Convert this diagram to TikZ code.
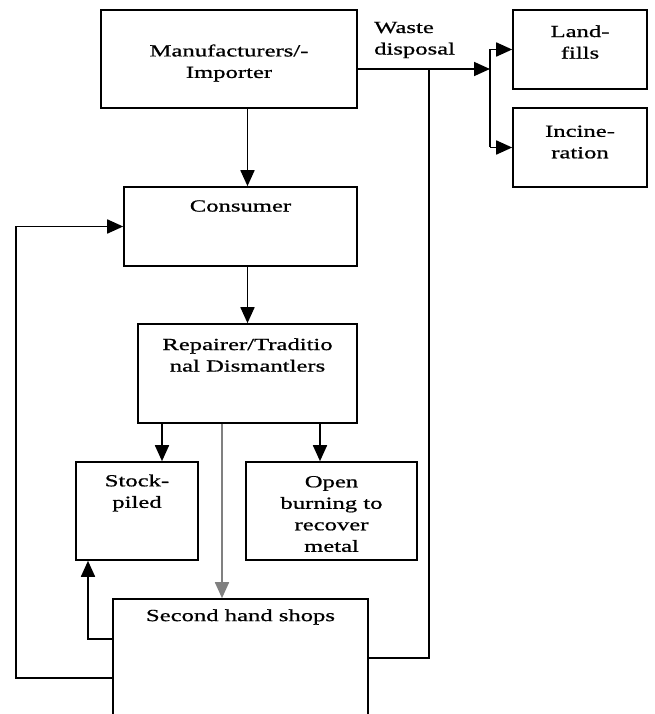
\documentclass[tikz,border=0pt]{standalone}
\usepackage{fontspec}
\setmainfont{Liberation Serif}[FakeStretch=1.45,FakeBold=0.8]
\usetikzlibrary{arrows.meta,calc}
\begin{document}
\begin{tikzpicture}[x=1pt,y=-1pt,
  box/.style={draw,line width=1.6pt,rectangle,inner sep=0pt},
  lbl/.style={align=center,inner sep=0pt,font=\fontsize{17}{21.5}\selectfont},
  conn/.style={line width=1.7pt},
  arr/.style={conn,-{Triangle[length=16pt,width=14pt]}},
  garr/.style={arr,draw=black!50,fill=black}]
\useasboundingbox (0,0) rectangle (654,714);
\clip (0,0) rectangle (654,714);
% boxes
\node[box,minimum width=256pt,minimum height=98pt] (man) at (229,59) {};
\node[box,minimum width=134pt,minimum height=79pt] (land) at (580,49.5) {};
\node[box,minimum width=134pt,minimum height=79pt] (inc) at (580,147.5) {};
\node[box,minimum width=233pt,minimum height=79pt] (con) at (240.5,226.5) {};
\node[box,minimum width=219pt,minimum height=99pt] (rep) at (247.5,373.5) {};
\node[box,minimum width=122pt,minimum height=98pt] (stock) at (137,511) {};
\node[box,minimum width=171pt,minimum height=98pt] (open) at (331.5,511) {};
\node[box,minimum width=255pt,minimum height=141pt] (shop) at (240.5,669.5) {};
% texts
\node[lbl] (tman) at (229,63) {Manufacturers/-\\Importer};
\node[lbl] (tland) at (580,42) {Land-\\fills};
\node[lbl] (tinc) at (580,142) {Incine-\\ration};
\node[lbl] (tcon) at (240.5,206) {Consumer};
\node[lbl] (trep) at (247.5,355) {Repairer/Traditio\\nal Dismantlers};
\node[lbl] (tstock) at (137,493) {Stock-\\piled};
\node[lbl] (topen) at (331.5,514) {Open\\burning to\\recover\\metal};
\node[lbl] (tshop) at (240.5,617) {Second hand shops};
\node[lbl,align=left,anchor=west] (twaste) at (374,40) {Waste\\disposal};
% helper coordinates
\coordinate (wy) at (0,69);
\coordinate (split) at (490,69);
\coordinate (wx) at (429,0);
\coordinate (sy1) at (0,639);
\coordinate (sx1) at (88,0);
\coordinate (sy2) at (0,678);
\coordinate (lx) at (16,0);
\coordinate (ax) at (162,0);
\coordinate (bx) at (222,0);
\coordinate (cx) at (320,0);
\coordinate (ry) at (0,658);
% waste disposal branch
\draw[arr] (man.east |- wy) -- (split);
\draw[conn] (split |- land.west) -- (split |- inc.west);
\draw[arr] (split |- land.west) -- (land.west);
\draw[arr] (split |- inc.west) -- (inc.west);
% main chain
\draw[arr] (man.south -| rep.north) -- (rep.north |- con.north);
\draw[arr] (rep.north |- con.south) -- (rep.north);
\draw[arr] (rep.south -| ax) -- (stock.north -| ax);
\draw[arr] (rep.south -| cx) -- (open.north -| cx);
\draw[garr] (rep.south -| bx) -- (shop.north -| bx);
% feedback lines
\draw[arr] (shop.west |- sy1) -| (stock.south -| sx1);
\draw[arr] (shop.west |- sy2) -| (lx |- con.west) -- (con.west);
\draw[conn] (shop.east |- ry) -| (wx |- wy);
\end{tikzpicture}
\end{document}
